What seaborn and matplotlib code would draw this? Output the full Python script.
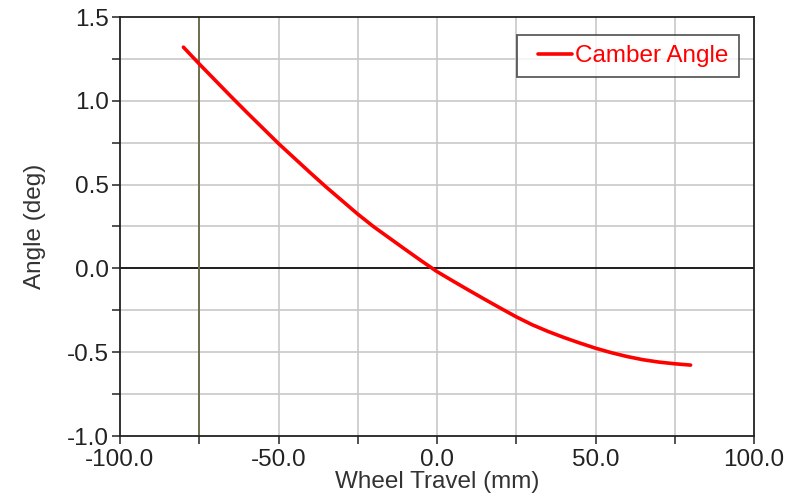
import numpy as np
import pandas as pd
import matplotlib
matplotlib.use("Agg")
import matplotlib.pyplot as plt
from matplotlib.lines import Line2D
from matplotlib.legend_handler import HandlerLine2D
import seaborn as sns

wheel_travel = [-80, -75, -70, -65, -60, -55, -50, -45, -40, -35, -30, -25, -20,
                -15, -10, -5, 0, 5, 10, 15, 20, 25, 30, 35, 40, 45, 50, 55, 60,
                65, 70, 75, 80]
camber_angle = [1.32, 1.22, 1.123, 1.026, 0.931, 0.838, 0.745, 0.658, 0.571, 0.486,
                0.405, 0.324, 0.249, 0.181, 0.113, 0.046, -0.019, -0.075, -0.130,
                -0.184, -0.237, -0.289, -0.336, -0.376, -0.412, -0.445, -0.476,
                -0.503, -0.526, -0.545, -0.559, -0.569, -0.577]
x_ticks = [-100.0, -50.0, 0.0, 50.0, 100.0]
y_ticks = [-1.0, -0.5, 0.0, 0.5, 1.0, 1.5]
marker_x = -75

sns.set_theme(style="white")
plt.rcParams['font.family'] = ['Liberation Sans', 'DejaVu Sans']

df = pd.DataFrame({"Wheel Travel": wheel_travel, "Camber Angle": camber_angle})

fig = plt.figure(figsize=(8.05, 4.94), dpi=100)
ax = fig.add_axes([120/805, 1-436/494, (754-120)/805, (436-17)/494])

# grid
for xv in np.arange(-75, 100, 25):
    ax.axvline(xv, color="#c8c8c8", lw=1.2, zorder=0)
for yv in np.arange(-0.75, 1.5, 0.25):
    ax.axhline(yv, color="#c8c8c8", lw=1.2, zorder=0)
ax.axhline(0, color="black", lw=1.2, zorder=1)
ax.axvline(marker_x, color="#6e6e50", lw=1.4, zorder=1)

sns.lineplot(data=df, x="Wheel Travel", y="Camber Angle", ax=ax, color="#ff0000",
             lw=2.6, label="Camber Angle", zorder=3)

ax.set_xlim(-100, 100)
ax.set_ylim(-1.0, 1.5)
ax.set_xticks(np.arange(-100, 101, 25))
ax.set_xticklabels([f"{v:.1f}" if v in x_ticks else "" for v in np.arange(-100, 101, 25)])
ax.set_yticks(np.arange(-1.0, 1.51, 0.25))
ax.set_yticklabels([f"{v:.1f}" if round(v, 2) in y_ticks else "" for v in np.arange(-1.0, 1.51, 0.25)])
ax.tick_params(axis="both", which="major", direction="out", length=6, width=1.2,
               colors="#333333", labelsize=17.5, labelcolor="#222222",
               left=True, bottom=True)
ax.tick_params(axis="x", pad=3)
ax.tick_params(axis="y", pad=2)
for s in ax.spines.values():
    s.set_color("#222222")
    s.set_linewidth(1.3)

ax.set_xlabel("Wheel Travel (mm)", fontsize=17.5, color="#333333", labelpad=0)
ax.set_ylabel("Angle (deg)", fontsize=17.5, color="#333333", labelpad=15)

leg = ax.legend(loc="upper right", bbox_to_anchor=(0.976, 0.957), fontsize=17.5,
                frameon=True, fancybox=False, handlelength=1.85, handletextpad=0.12,
                borderpad=0.42, borderaxespad=0,
                handler_map={Line2D: HandlerLine2D(xpad=0.42)})
leg.get_frame().set_edgecolor("#333333")
leg.get_frame().set_linewidth(1.3)
for t in leg.get_texts():
    t.set_color("#ff0000")

fig.savefig("out.png", dpi=100)
